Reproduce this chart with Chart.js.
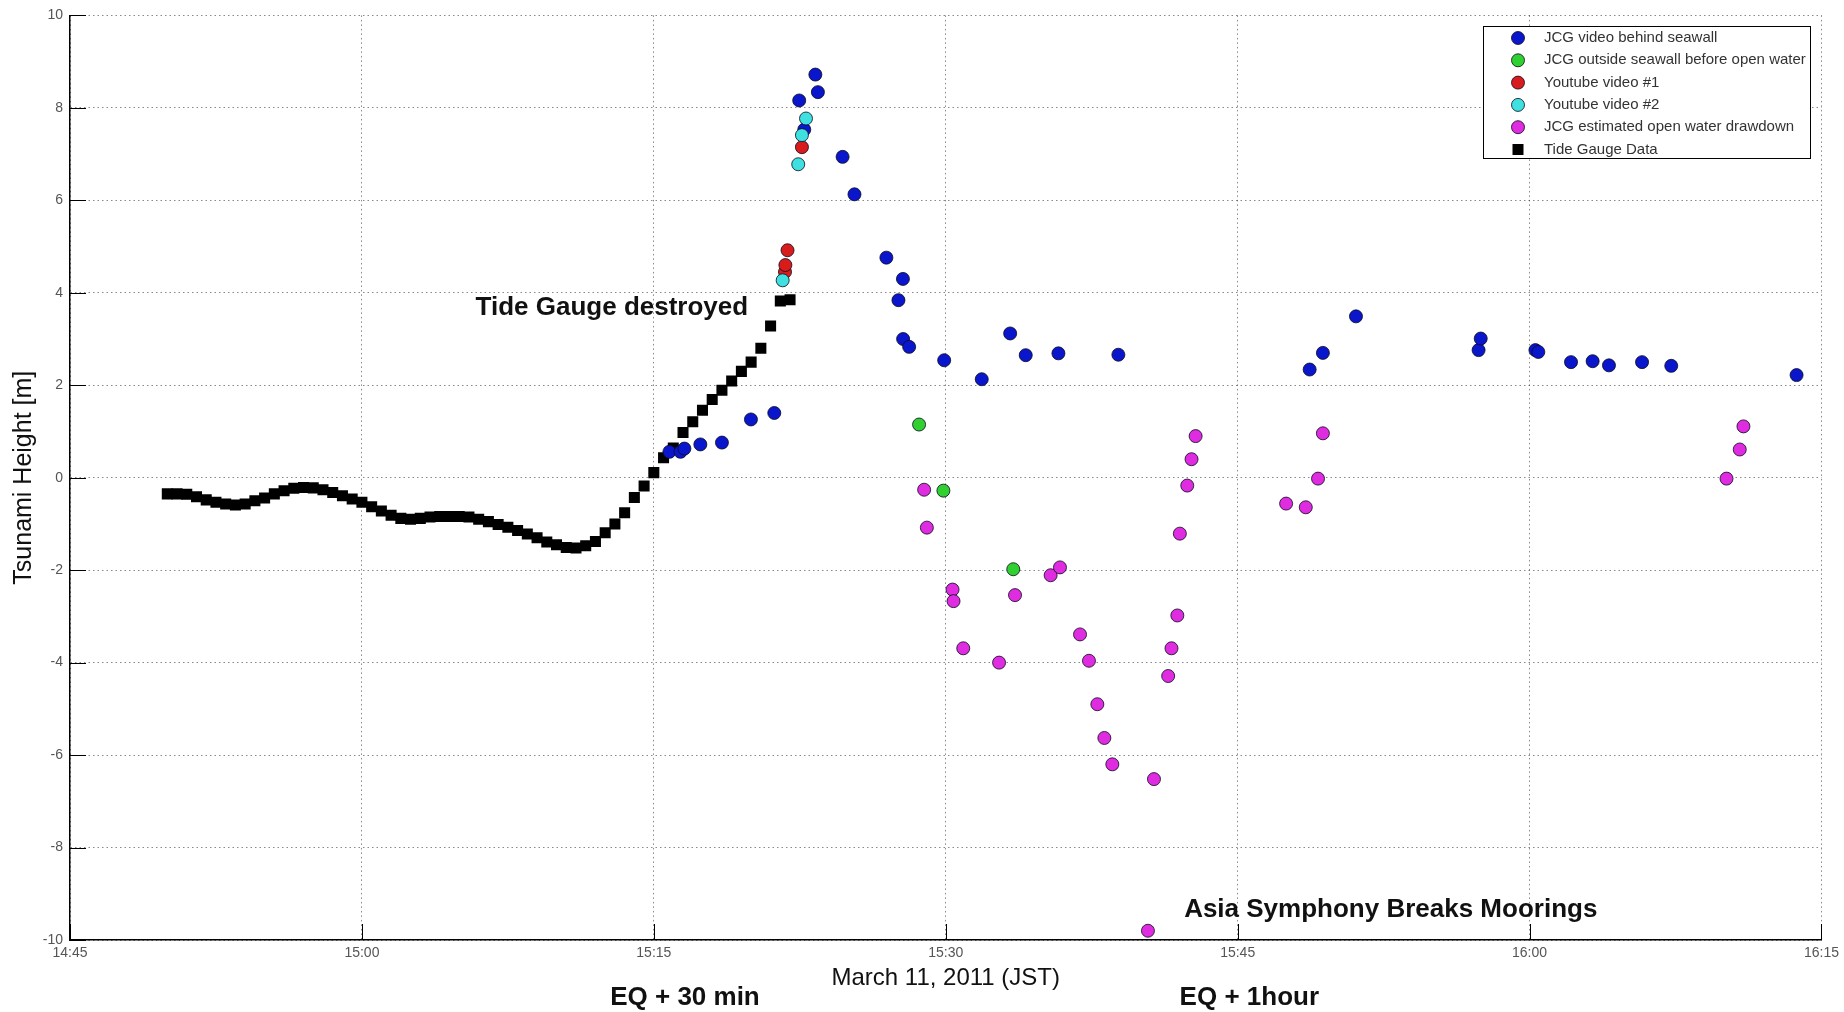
<!DOCTYPE html>
<html>
<head>
<meta charset="utf-8">
<script src="https://cdn.jsdelivr.net/npm/chart.js@4.4.0/dist/chart.umd.min.js"></script>
<style>
  html, body { margin: 0; padding: 0; background: #fff; }
</style>
</head>
<body>
<canvas id="chart" width="1844" height="1012"></canvas>
<script>
// times are minutes after 14:45 (March 11, 2011 JST), heights in metres
const tideMin = [5, 5.5, 6, 6.5, 7, 7.5, 8, 8.5, 9, 9.5, 10, 10.5, 11, 11.5, 12, 12.5, 13, 13.5,
  14, 14.5, 15, 15.5, 16, 16.5, 17, 17.5, 18, 18.5, 19, 19.5, 20, 20.5, 21, 21.5, 22, 22.5,
  23, 23.5, 24, 24.5, 25, 25.5, 26, 26.5, 27, 27.5, 28, 28.5, 29, 29.5, 30, 30.5, 31, 31.5,
  32, 32.5, 33, 33.5, 34, 34.5, 35, 35.5, 36, 36.5, 37];
const tideHeight = [-0.35, -0.35, -0.36, -0.41, -0.48, -0.53, -0.57, -0.59, -0.57, -0.50, -0.44, -0.35,
  -0.28, -0.23, -0.21, -0.22, -0.26, -0.32, -0.39, -0.46, -0.53, -0.63, -0.72, -0.81, -0.88, -0.90,
  -0.88, -0.85, -0.84, -0.84, -0.84, -0.85, -0.90, -0.95, -1.01, -1.07, -1.14, -1.22, -1.30, -1.39,
  -1.45, -1.51, -1.52, -1.47, -1.38, -1.19, -1.00, -0.76, -0.43, -0.18, 0.11, 0.43, 0.64, 0.98,
  1.21, 1.46, 1.69, 1.89, 2.09, 2.30, 2.50, 2.80, 3.28, 3.82, 3.85];

const behindMin = [30.8, 31.37, 31.57, 32.39, 33.5, 34.99, 36.19, 37.47, 37.73, 38.3, 38.43, 39.7,
  40.31, 41.95, 42.8, 42.57, 42.81, 43.12, 44.92, 46.85, 48.31, 49.11, 50.79, 53.87, 63.7, 64.38,
  66.08, 72.38, 72.49, 75.3, 75.45, 77.13, 78.24, 79.08, 80.78, 82.28, 88.72];
const behindHeight = [0.56, 0.56, 0.63, 0.72, 0.76, 1.26, 1.40, 8.16, 7.53, 8.72, 8.34, 6.94,
  6.13, 4.76, 4.30, 3.84, 3.00, 2.83, 2.54, 2.13, 3.12, 2.65, 2.69, 2.66, 2.34, 2.70,
  3.49, 2.76, 3.01, 2.76, 2.72, 2.50, 2.52, 2.43, 2.50, 2.42, 2.22];

const outsideMin = [43.63, 44.88, 48.47];
const outsideHeight = [1.15, -0.28, -1.98];

const yt1Min = [36.74, 36.76, 36.87, 37.61];
const yt1Height = [4.45, 4.60, 4.92, 7.15];

const yt2Min = [36.62, 37.42, 37.61, 37.82];
const yt2Height = [4.27, 6.78, 7.41, 7.77];

const drawdownMin = [43.89, 44.03, 45.35, 45.4, 45.9, 47.74, 48.56, 50.39, 50.87, 51.9, 52.36, 52.79,
  53.15, 53.56, 55.39, 55.7, 56.43, 56.6, 56.9, 57.03, 57.41, 57.63, 57.84, 62.49, 63.5, 64.13,
  64.38, 85.12, 85.8, 85.99];
const drawdownHeight = [-0.26, -1.08, -2.42, -2.67, -3.69, -4.00, -2.54, -2.11, -1.94, -3.39, -3.96, -4.90,
  -5.63, -6.20, -9.80, -6.52, -4.29, -3.69, -2.98, -1.21, -0.17, 0.40, 0.90, -0.56, -0.64, -0.02,
  0.96, -0.02, 0.61, 1.11];

const xTickStep = 15;   // minutes
const yTickStep = 2;    // metres

const FONT = '"Liberation Sans", Arial, sans-serif';

function pts(xs, ys) {
  return xs.map((x, i) => ({ x: x, y: ys[i] }));
}

function fmtTime(v) {
  const m = 14 * 60 + 45 + v;
  return Math.floor(m / 60) + ':' + String(m % 60).padStart(2, '0');
}

function dotSet(label, xs, ys, color, order) {
  return {
    label: label,
    data: pts(xs, ys),
    pointStyle: 'circle',
    pointRadius: 6.5,
    pointBackgroundColor: color,
    pointBorderColor: 'rgba(10,10,30,0.8)',
    pointBorderWidth: 1,
    showLine: false,
    order: order
  };
}

// inward tick marks, text notes and the boxed legend
const decorations = {
  id: 'decorations',
  afterDraw(chart) {
    const ctx = chart.ctx;
    const xs = chart.scales.x, ys = chart.scales.y;
    const area = chart.chartArea;
    ctx.save();

    // tick marks pointing into the plot
    ctx.strokeStyle = '#000';
    ctx.lineWidth = 1;
    ctx.beginPath();
    xs.ticks.forEach(t => {
      const px = Math.round(xs.getPixelForValue(t.value)) + 0.5;
      ctx.moveTo(px, area.bottom);
      ctx.lineTo(px, area.bottom - 16);
    });
    ys.ticks.forEach(t => {
      const py = Math.round(ys.getPixelForValue(t.value)) + 0.5;
      ctx.moveTo(area.left, py);
      ctx.lineTo(area.left + 16, py);
    });
    ctx.stroke();

    // bold notes
    ctx.fillStyle = '#111';
    ctx.font = 'bold 26px ' + FONT;
    ctx.textBaseline = 'middle';
    ctx.textAlign = 'left';
    ctx.fillText('Tide Gauge destroyed', xs.getPixelForValue(20.84), ys.getPixelForValue(3.68));
    ctx.fillText('Asia Symphony Breaks Moorings', xs.getPixelForValue(57.25), ys.getPixelForValue(-9.35));
    ctx.textAlign = 'center';
    ctx.fillText('EQ + 30 min', xs.getPixelForValue(31.6), area.bottom + 58);
    ctx.fillText('EQ + 1hour', xs.getPixelForValue(60.6), area.bottom + 58);

    // axis titles
    ctx.font = '24px ' + FONT;
    ctx.fillText('March 11, 2011 (JST)', (area.left + area.right) / 2, area.bottom + 38);
    ctx.save();
    ctx.translate(24, (area.top + area.bottom) / 2);
    ctx.rotate(-Math.PI / 2);
    ctx.font = '25px ' + FONT;
    ctx.fillText('Tsunami Height [m]', 0, 0);
    ctx.restore();

    // legend box
    const box = { left: 1483.5, top: 26.5, right: 1810.5, bottom: 158.5 };
    ctx.fillStyle = '#fff';
    ctx.fillRect(box.left, box.top, box.right - box.left, box.bottom - box.top);
    ctx.strokeStyle = '#000';
    ctx.lineWidth = 1;
    ctx.strokeRect(box.left, box.top, box.right - box.left, box.bottom - box.top);
    ctx.font = '15px ' + FONT;
    ctx.textAlign = 'left';
    ctx.textBaseline = 'middle';
    chart.data.datasets.forEach((ds, i) => {
      const cy = 38 + i * 22.3;
      const mx = 1518;
      if (ds.pointStyle === 'rect') {
        ctx.fillStyle = '#000';
        ctx.fillRect(mx - 5.5, cy - 5.5, 11, 11);
      } else {
        ctx.beginPath();
        ctx.arc(mx, cy, 6.5, 0, Math.PI * 2);
        ctx.fillStyle = ds.pointBackgroundColor;
        ctx.fill();
        ctx.strokeStyle = ds.pointBorderColor;
        ctx.stroke();
      }
      ctx.fillStyle = '#333';
      ctx.fillText(ds.label, 1544, cy);
    });
    ctx.restore();
  }
};

new Chart(document.getElementById('chart'), {
  type: 'scatter',
  data: {
    datasets: [
      dotSet('JCG video behind seawall', behindMin, behindHeight, '#0a16cc', 6),
      dotSet('JCG outside seawall before open water', outsideMin, outsideHeight, '#30d030', 5),
      dotSet('Youtube video #1', yt1Min, yt1Height, '#d81c1c', 4),
      dotSet('Youtube video #2', yt2Min, yt2Height, '#3ee0e0', 3),
      dotSet('JCG estimated open water drawdown', drawdownMin, drawdownHeight, '#e02ce0', 2),
      {
        label: 'Tide Gauge Data',
        data: pts(tideMin, tideHeight),
        pointStyle: 'rect',
        pointRadius: 7.8,
        pointBackgroundColor: '#000',
        pointBorderWidth: 0,
        showLine: false,
        order: 7
      }
    ]
  },
  options: {
    responsive: false,
    animation: false,
    events: [],
    layout: { padding: { top: 15, right: 21, left: 0, bottom: 0 } },
    plugins: { legend: { display: false }, tooltip: { enabled: false } },
    scales: {
      x: {
        type: 'linear',
        min: 0,
        max: 90,
        afterFit: s => { s.height = 72; },
        ticks: {
          stepSize: xTickStep,
          callback: v => fmtTime(v),
          font: { size: 14, family: FONT },
          color: '#555',
          padding: 5,
          maxRotation: 0,
          autoSkip: false
        },
        grid: { color: 'rgba(40,40,40,0.55)', lineWidth: 1, drawTicks: false },
        border: { display: true, color: '#000', width: 1.5, dash: [1.5, 3] }
      },
      y: {
        min: -10,
        max: 10,
        afterFit: s => { s.width = 70; },
        ticks: {
          stepSize: yTickStep,
          callback: v => String(v),
          font: { size: 14, family: FONT },
          color: '#555',
          padding: 7
        },
        grid: { color: 'rgba(40,40,40,0.55)', lineWidth: 1, drawTicks: false },
        border: { display: true, color: '#000', width: 1.5, dash: [1.5, 3] }
      }
    }
  },
  plugins: [decorations]
});
</script>
</body>
</html>
